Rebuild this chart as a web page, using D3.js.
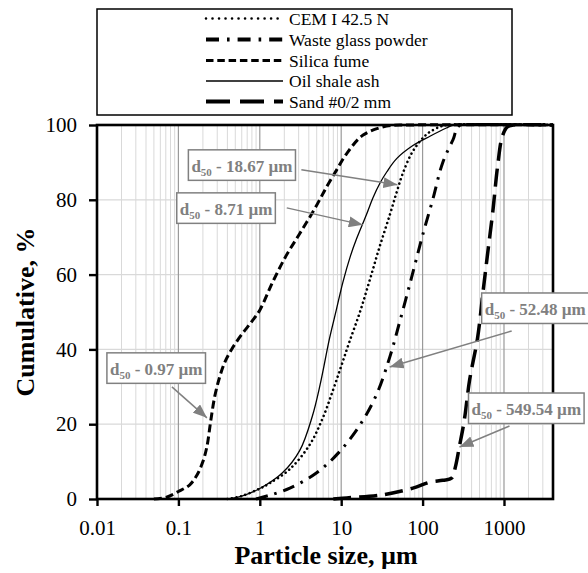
<!DOCTYPE html>
<html>
<head>
<meta charset="utf-8">
<script src="https://cdn.jsdelivr.net/npm/d3@7"></script>
<style>
  html, body { margin: 0; padding: 0; background: #fff; }
  svg { display: block; }
  text { font-family: "Liberation Serif", "Times New Roman", serif; }
</style>
</head>
<body>
<svg id="chart" width="588" height="573"></svg>
<script>
// ---------------- DATA ----------------
const seriesNames = ["CEM I 42.5 N", "Waste glass powder", "Silica fume", "Oil shale ash", "Sand #0/2 mm"];

const cemSize   = [0.4, 0.6, 1.0, 1.32, 2.34, 4.1, 5.9, 7.9, 10, 12.6, 17, 22.4, 29.7, 39.6, 48, 57, 76, 112, 162, 200, 4000];
const cemValue  = [0, 0.8, 2.8, 4.2, 8, 14.5, 21.5, 29, 35.5, 42, 50, 58.5, 67.5, 76, 82, 87, 93, 97.5, 99.5, 100, 100];

const wasteSize  = [0.9, 1.32, 2.34, 5, 9.5, 17, 27, 39.6, 52.5, 66, 79, 100, 133, 177, 236, 290, 4000];
const wasteValue = [0, 1, 2.9, 7, 12.6, 19.8, 27.8, 38, 47.5, 55.5, 62, 70.5, 80, 90, 96, 100, 100];

const silicaSize  = [0.05, 0.07, 0.1, 0.138, 0.17, 0.2, 0.224, 0.25, 0.28, 0.32, 0.37, 0.45, 0.6, 0.8, 1.0, 1.44, 2.1, 3.1, 4.7, 6.6, 8.8, 11.8, 18.6, 36, 70, 4000];
const silicaValue = [0, 0.4, 2, 3.8, 6.5, 10, 14, 21, 27.5, 32.5, 36.5, 40, 44, 47.5, 50.5, 58, 65, 71, 77.5, 83.4, 88, 92.5, 97.3, 99.7, 100, 100];

const oilSize  = [0.4, 0.6, 1.0, 1.9, 3.1, 4.4, 5.5, 7.2, 8.7, 10.5, 13, 15.4, 20.4, 24.5, 30, 36.4, 48, 76, 123, 196, 240, 4000];
const oilValue = [0, 0.8, 2.8, 7, 13, 22, 30.5, 43, 50.5, 58, 65, 69.5, 76, 80.5, 84.5, 87.5, 91, 94.5, 97, 99.2, 100, 100];

const sandSize  = [8, 11.7, 29.6, 76, 123, 177, 228, 253, 283, 325, 378, 473, 550, 630, 730, 835, 955, 1100, 1300, 4000];
const sandValue = [0, 0.3, 1, 2.9, 4.5, 5, 5.6, 8.6, 14, 21, 31.8, 43, 55, 65.7, 77, 89, 97, 99.5, 100, 100];

const xTickValues = [0.01, 0.1, 1, 10, 100, 1000];
const xTickLabels = ["0.01", "0.1", "1", "10", "100", "1000"];
const yTickValues = [0, 20, 40, 60, 80, 100];

const d50Labels = ["18.67", "8.71", "0.97", "52.48", "549.54"];
// annotation arrow tips (size in µm, cumulative %)
const d50TipSize  = [49, 18.4, 0.224, 39.4, 284];
const d50TipValue = [84, 73.3, 21.7, 35.3, 13.9];

// ---------------- LAYOUT ----------------
const svg = d3.select("#chart");
const pLeft = 97, pRight = 553, pTop = 125, pBottom = 499;

const x = d3.scaleLog().domain([0.01, 4000]).range([pLeft, pRight]);
const y = d3.scaleLinear().domain([0, 100]).range([pBottom, pTop]);

const styles = [
  { dash: "0.01 4.6", width: 2.6, cap: "round" },      // CEM
  { dash: "12 7 2.5 7", width: 3, cap: "butt" },       // Waste glass
  { dash: "8 4", width: 3, cap: "butt" },              // Silica fume
  { dash: null, width: 1.3, cap: "butt" },             // Oil shale ash
  { dash: "18 8", width: 3.5, cap: "butt" }            // Sand
];
const legendStyles = [
  { dash: "0.01 6.5", width: 2.6, cap: "round" },
  { dash: "13 8 2.6 8", width: 4, cap: "butt" },
  { dash: "7.5 3.8", width: 3.2, cap: "butt" },
  { dash: null, width: 1.3, cap: "butt" },
  { dash: "24 10", width: 3.8, cap: "butt" }
];

svg.append("defs").append("clipPath").attr("id", "plotClip")
  .append("rect").attr("x", pLeft).attr("y", pTop - 2)
  .attr("width", pRight - pLeft).attr("height", pBottom - pTop + 4);

// ---------------- GRID ----------------
const grid = svg.append("g");
const minorTicks = [];
for (let e = -2; e <= 3; e++) {
  for (let m = 2; m <= 9; m++) {
    const v = m * Math.pow(10, e);
    if (v < 4000) minorTicks.push(v);
  }
}
grid.selectAll("line.minor").data(minorTicks).join("line")
  .attr("x1", d => x(d)).attr("x2", d => x(d))
  .attr("y1", pTop).attr("y2", pBottom)
  .attr("stroke", "#d9d9d9").attr("stroke-width", 1);
grid.selectAll("line.hgrid").data(yTickValues.filter(v => v > 0 && v < 100)).join("line")
  .attr("x1", pLeft).attr("x2", pRight)
  .attr("y1", d => y(d)).attr("y2", d => y(d))
  .attr("stroke", "#d9d9d9").attr("stroke-width", 1.3);
grid.selectAll("line.major").data(xTickValues.slice(1)).join("line")
  .attr("x1", d => x(d)).attr("x2", d => x(d))
  .attr("y1", pTop).attr("y2", pBottom)
  .attr("stroke", "#9a9a9a").attr("stroke-width", 1.2);

// ---------------- CURVES ----------------
const series = [
  { size: cemSize, value: cemValue },
  { size: wasteSize, value: wasteValue },
  { size: silicaSize, value: silicaValue },
  { size: oilSize, value: oilValue },
  { size: sandSize, value: sandValue }
];
const line = d3.line().x(d => x(d[0])).y(d => y(d[1])).curve(d3.curveCatmullRom.alpha(0.5));
const curves = svg.append("g").attr("clip-path", "url(#plotClip)");
series.forEach((s, i) => {
  const pts = s.size.map((v, k) => [v, s.value[k]]);
  const st = styles[i];
  const p = curves.append("path").datum(pts)
    .attr("d", line)
    .attr("fill", "none")
    .attr("stroke", "#000")
    .attr("stroke-width", st.width)
    .attr("stroke-linecap", st.cap)
    .attr("stroke-linejoin", "round");
  if (st.dash) p.attr("stroke-dasharray", st.dash);
});

// ---------------- FRAME & AXES ----------------
svg.append("rect")
  .attr("x", pLeft).attr("y", pTop)
  .attr("width", pRight - pLeft).attr("height", pBottom - pTop)
  .attr("fill", "none").attr("stroke", "#000").attr("stroke-width", 2.6);

const xAxis = d3.axisBottom(x).tickValues(xTickValues).tickSize(7)
  .tickFormat((d, i) => xTickLabels[i]).tickPadding(14);
const gx = svg.append("g").attr("transform", `translate(0,${pBottom})`).call(xAxis);
gx.select(".domain").remove();
gx.selectAll(".tick line").attr("stroke", "#000").attr("stroke-width", 2.4);
gx.selectAll(".tick text")
  .attr("font-family", "Liberation Serif, serif")
  .attr("font-size", 21).attr("fill", "#000");

const yAxis = d3.axisLeft(y).tickValues(yTickValues).tickSize(8).tickPadding(12);
const gy = svg.append("g").attr("transform", `translate(${pLeft},0)`).call(yAxis);
gy.select(".domain").remove();
gy.selectAll(".tick line").attr("stroke", "#000").attr("stroke-width", 2.4);
gy.selectAll(".tick text")
  .attr("font-family", "Liberation Serif, serif")
  .attr("font-size", 21).attr("fill", "#000");

svg.append("text")
  .attr("x", (pLeft + pRight) / 2 + 1).attr("y", 564)
  .attr("text-anchor", "middle")
  .attr("font-size", 26).attr("font-weight", "bold")
  .text("Particle size, µm");

svg.append("text")
  .attr("transform", `translate(34,${(pTop + pBottom) / 2}) rotate(-90)`)
  .attr("text-anchor", "middle")
  .attr("font-size", 26).attr("font-weight", "bold")
  .text("Cumulative, %");

// ---------------- LEGEND ----------------
const lg = svg.append("g");
lg.append("rect").attr("x", 97).attr("y", 9).attr("width", 415).attr("height", 106)
  .attr("fill", "#fff").attr("stroke", "#000").attr("stroke-width", 1.5);
const rowY = [18.5, 39.5, 60.5, 81, 101.5];
seriesNames.forEach((name, i) => {
  const st = legendStyles[i];
  const l = lg.append("line")
    .attr("x1", 206).attr("x2", 283).attr("y1", rowY[i]).attr("y2", rowY[i])
    .attr("stroke", "#000").attr("stroke-width", st.width).attr("stroke-linecap", st.cap);
  if (st.dash) l.attr("stroke-dasharray", st.dash);
  lg.append("text").attr("x", 289).attr("y", rowY[i] + 6)
    .attr("font-size", 17.5).text(name);
});

// ---------------- ANNOTATIONS ----------------
const defs = svg.append("defs");
defs.append("marker").attr("id", "arrow")
  .attr("viewBox", "0 0 14 11").attr("refX", 14).attr("refY", 5.5)
  .attr("markerWidth", 14).attr("markerHeight", 11)
  .attr("markerUnits", "userSpaceOnUse").attr("orient", "auto")
  .append("path").attr("d", "M0,0 L14,5.5 L0,11 Z").attr("fill", "#808080");

// box offset (relative to tip) and arrow start offset (relative to tip)
const boxOffset   = [[-209, -35], [-186, -32], [-100, -65], [92, -74], [9, -54]];
const startOffset = [[-96, -15], [-76, -17], [-35, -31], [122, -36], [50, -21]];

d50Labels.forEach((lab, i) => {
  const tx = x(d50TipSize[i]), ty = y(d50TipValue[i]);
  const bx = tx + boxOffset[i][0], by = ty + boxOffset[i][1];
  const g = svg.append("g");
  const rect = g.append("rect").attr("x", bx).attr("y", by).attr("height", 30.5)
    .attr("fill", "#fff").attr("stroke", "#808080").attr("stroke-width", 1.5);
  const t = g.append("text").attr("x", bx + 3).attr("y", by + 22)
    .attr("font-size", 17).attr("font-weight", "bold").attr("fill", "#808080");
  t.append("tspan").text("d");
  t.append("tspan").attr("font-size", 11).attr("dy", 4).text("50");
  t.append("tspan").attr("dy", -4).text(" - " + lab + " µm");
  const w = t.node().getComputedTextLength();
  rect.attr("width", w + 6);
  svg.append("line")
    .attr("x1", tx + startOffset[i][0]).attr("y1", ty + startOffset[i][1])
    .attr("x2", tx).attr("y2", ty)
    .attr("stroke", "#808080").attr("stroke-width", 1.5)
    .attr("marker-end", "url(#arrow)");
});
</script>
</body>
</html>
